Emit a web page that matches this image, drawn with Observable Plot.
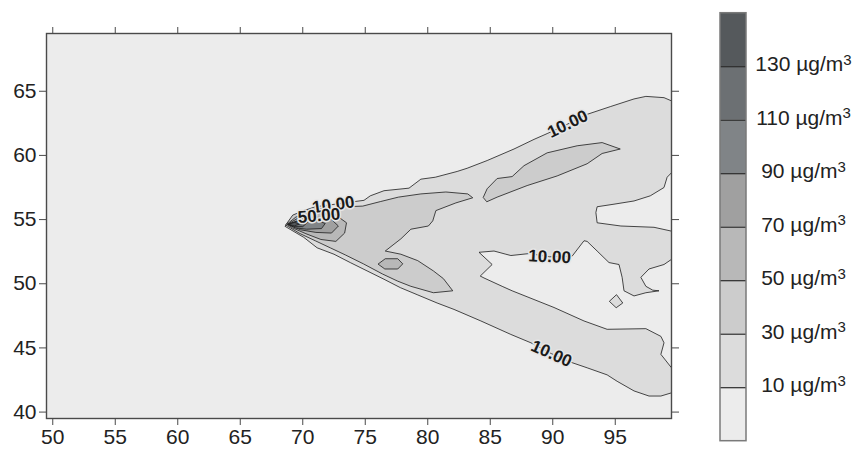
<!DOCTYPE html>
<html>
<head>
<meta charset="utf-8">
<script src="https://cdn.jsdelivr.net/npm/d3@7"></script>
<script src="https://cdn.jsdelivr.net/npm/@observablehq/plot@0.6"></script>
<style>
  html, body { margin: 0; padding: 0; background: #ffffff; }
  #wrap { position: relative; width: 860px; height: 450px; font-family: "Liberation Sans", Arial, sans-serif; }
  #main { position: absolute; left: 0; top: 0; }
  #legend { position: absolute; left: 700px; top: 0; }
</style>
</head>
<body>
<div id="wrap"><div id="main"></div><div id="legend"></div></div>
<script>
// ---------- data ----------
const xTicks = [50, 55, 60, 65, 70, 75, 80, 85, 90, 95];
const yTicks = [40, 45, 50, 55, 60, 65];
const levels = [10, 30, 50, 70, 90, 110, 130];
const unit = "µg/m";
const bandLow = [-10, 10, 30, 50, 70, 90, 110, 130];
const bandColors = ["#ececec", "#dcdcdc", "#cccccc", "#b8b8b8", "#a0a0a0", "#808487", "#6c7073", "#55595c"];

// contour polygons [lon, lat]
const c10 = [[68.6,54.5],[69.0,55.0],[69.8,55.6],[71.0,56.0],[72.6,56.2],[74.1,56.4],[74.9,56.5],[75.4,56.85],[76.5,57.25],[78.5,57.45],[79.45,58.15],[80.6,58.3],[82.35,58.75],[83.15,59.0],[84.75,59.6],[86.9,60.5],[88.5,61.25],[89.55,61.7],[91.2,62.45],[92.75,63.2],[94.6,63.8],[96.5,64.4],[97.45,64.6],[98.9,64.5],[99.5,64.25],[99.5,58.65],[99.15,58.3],[98.9,57.5],[97.8,56.85],[96.5,56.45],[94.9,56.2],[93.55,56.0],[93.45,55.55],[93.55,54.75],[95.45,54.5],[98.1,54.4],[99.5,54.1],[99.5,51.9],[98.9,51.5],[97.7,51.15],[97.05,50.5],[97.45,49.8],[98.0,49.5],[98.5,49.45],[97.45,49.3],[96.5,49.05],[95.7,49.45],[95.55,50.5],[95.3,51.5],[94.5,51.65],[93.55,52.55],[92.75,53.3],[92.5,53.35],[91.55,52.15],[89.75,52.1],[88.1,52.35],[86.65,52.2],[86.25,52.3],[85.3,52.55],[84.1,52.45],[85.15,51.5],[84.2,50.6],[84.5,50.45],[85.95,49.8],[86.75,49.45],[90.1,48.15],[92.5,47.1],[94.35,46.45],[97.45,46.5],[98.65,45.9],[98.9,45.4],[98.65,44.5],[99.5,43.45],[99.5,41.5],[98.65,41.25],[97.7,41.25],[96.5,41.65],[95.15,42.4],[94.35,42.9],[92.75,43.45],[91.55,43.85],[89.9,44.55],[88.25,45.4],[86.65,46.05],[84.25,47.1],[82.1,48.0],[80.75,48.5],[79.15,49.15],[77.8,49.7],[76.5,50.35],[75.15,51.0],[73.8,51.65],[72.5,52.3],[71.15,52.8],[70.1,53.6]];
const c10island = [[94.55,48.65],[95.1,49.15],[95.6,48.5],[95.1,48.15]];
const c30core = [[68.65,54.6],[69.2,55.35],[70.2,55.75],[71.8,55.85],[73.4,56.0],[74.8,56.05],[76.2,56.4],[77.65,56.75],[79.45,57.0],[81.45,57.15],[83.2,57.0],[83.6,56.7],[82.25,56.3],[80.65,55.7],[80.4,54.9],[80.05,54.5],[78.65,54.25],[77.85,53.5],[76.6,52.55],[77.85,52.3],[79.2,51.8],[80.45,51.0],[81.25,50.4],[82.0,49.45],[80.45,49.3],[78.65,49.8],[77.6,50.2],[76.4,50.75],[74.85,51.55],[73.4,52.25],[72.2,52.8],[71.0,53.35],[69.8,53.9]];
const c30lobe = [[84.45,56.75],[84.75,57.4],[85.55,58.2],[86.75,58.35],[87.7,59.2],[89.55,60.2],[91.95,60.75],[93.95,61.0],[95.4,60.5],[93.95,60.15],[92.75,59.35],[90.35,58.4],[87.95,57.65],[85.55,56.75],[84.75,56.4]];
const c50core = [[68.75,54.65],[69.45,55.2],[70.25,55.45],[71.45,55.5],[72.65,55.35],[73.5,54.75],[73.35,53.95],[72.65,53.3],[71.45,53.45],[70.25,53.9],[69.2,54.35]];
const c50island = [[76.05,51.55],[76.6,51.95],[77.6,51.95],[78.0,51.55],[77.6,51.15],[76.6,51.15]];
const c70 = [[68.8,54.65],[69.6,55.1],[71.05,55.2],[72.3,55.0],[72.85,54.5],[72.3,53.95],[71.05,54.0],[69.85,54.2]];
const c90 = [[68.85,54.65],[69.7,54.95],[70.9,55.0],[71.8,54.7],[71.5,54.3],[70.3,54.25],[69.45,54.35]];
const c110 = [[68.9,54.65],[69.55,54.85],[70.4,54.8],[70.0,54.45],[69.3,54.45]];
const c130 = [[68.9,54.65],[69.35,54.78],[69.75,54.65],[69.35,54.52]];

const labelText = ["10.00", "10.00", "10.00", "10.00", "50.00"];
const labelLon = [91.2, 89.75, 89.9, 72.45, 71.3];
const labelLat = [62.45, 52.1, 44.55, 56.15, 55.3];
const labelAngle = [-26, 3, 24, -8, -5];

// ---------- build ----------
const polys = [
  {pts: c10, fill: bandColors[1]},
  {pts: c10island, fill: bandColors[1]},
  {pts: c30core, fill: bandColors[2]},
  {pts: c30lobe, fill: bandColors[2]},
  {pts: c50core, fill: bandColors[3]},
  {pts: c50island, fill: bandColors[3]},
  {pts: c70, fill: bandColors[4]},
  {pts: c90, fill: bandColors[5]},
  {pts: c110, fill: bandColors[6]},
  {pts: c130, fill: bandColors[7]}
];
const polyMarks = polys.map(p => Plot.line(p.pts, {
  x: d => d[0], y: d => d[1], curve: "linear-closed",
  fill: p.fill, stroke: "#1c1c1c", strokeWidth: 0.8, clip: true
}));
const labels = labelText.map((t, i) => ({t, lon: labelLon[i], lat: labelLat[i], a: labelAngle[i]}));

const axisFont = 21;
const main = Plot.plot({
  width: 700, height: 450,
  marginLeft: 46, marginRight: 29, marginTop: 33, marginBottom: 32,
  style: {fontFamily: '"Liberation Sans", Arial, sans-serif', background: "transparent", color: "#222"},
  x: {domain: [49.5, 99.5]},
  y: {domain: [39.5, 69.5]},
  marks: [
    Plot.frame({fill: bandColors[0], stroke: null}),
    ...polyMarks,
    Plot.text(labels, {x: "lon", y: "lat", text: "t", rotate: "a", fontSize: 17, fontWeight: "bold",
      fill: "#1a1a1a", stroke: "#e6e6e6", strokeWidth: 3}),
    Plot.frame({stroke: "#4a4a4a", strokeWidth: 1.4}),
    Plot.axisX({anchor: "bottom", ticks: xTicks, tickSize: 7, tickPadding: 4, fontSize: axisFont, stroke: "#4a4a4a", label: null}),
    Plot.axisX({anchor: "top", ticks: xTicks, tickSize: 7, tickFormat: () => "", stroke: "#4a4a4a", label: null}),
    Plot.axisY({anchor: "left", ticks: yTicks, tickSize: 7, tickPadding: 3, fontSize: axisFont, stroke: "#4a4a4a", label: null}),
    Plot.axisY({anchor: "right", ticks: yTicks, tickSize: 7, tickFormat: () => "", stroke: "#4a4a4a", label: null})
  ]
});
document.getElementById("main").appendChild(main);

const bands = bandLow.map((lo, i) => ({lo, hi: lo + 20, color: bandColors[i]}));
const legend = Plot.plot({
  width: 160, height: 450, margin: 0,
  style: {fontFamily: '"Liberation Sans", Arial, sans-serif', background: "transparent", color: "#222"},
  x: {domain: [0, 1], range: [20, 46], axis: null},
  y: {domain: [-10, 150], range: [440.7, 12.7], axis: null},
  color: {type: "identity"},
  marks: [
    Plot.rect(bands, {x1: 0, x2: 1, y1: "lo", y2: "hi", fill: "color"}),
    Plot.ruleY(levels, {x1: 0, x2: 1, stroke: "#2a2a2a", strokeWidth: 1.2}),
    Plot.rect([bands[0]], {x1: 0, x2: 1, y1: -10, y2: 150, fill: null, stroke: "#7a7a7a", strokeWidth: 1.5}),
    Plot.text(levels, {x: 1, y: d => d, text: d => `${d} ${unit}`, dx: 57, dy: -2, fontSize: 21, textAnchor: "middle", fill: "#222"})
  ]
});
// add the raised "3" of m3 as a real superscript
d3.select(legend).selectAll("text").each(function() {
  const t = d3.select(this);
  t.append("tspan").attr("dy", "-0.45em").attr("font-size", 15).text("3");
});
document.getElementById("legend").appendChild(legend);
</script>
</body>
</html>
